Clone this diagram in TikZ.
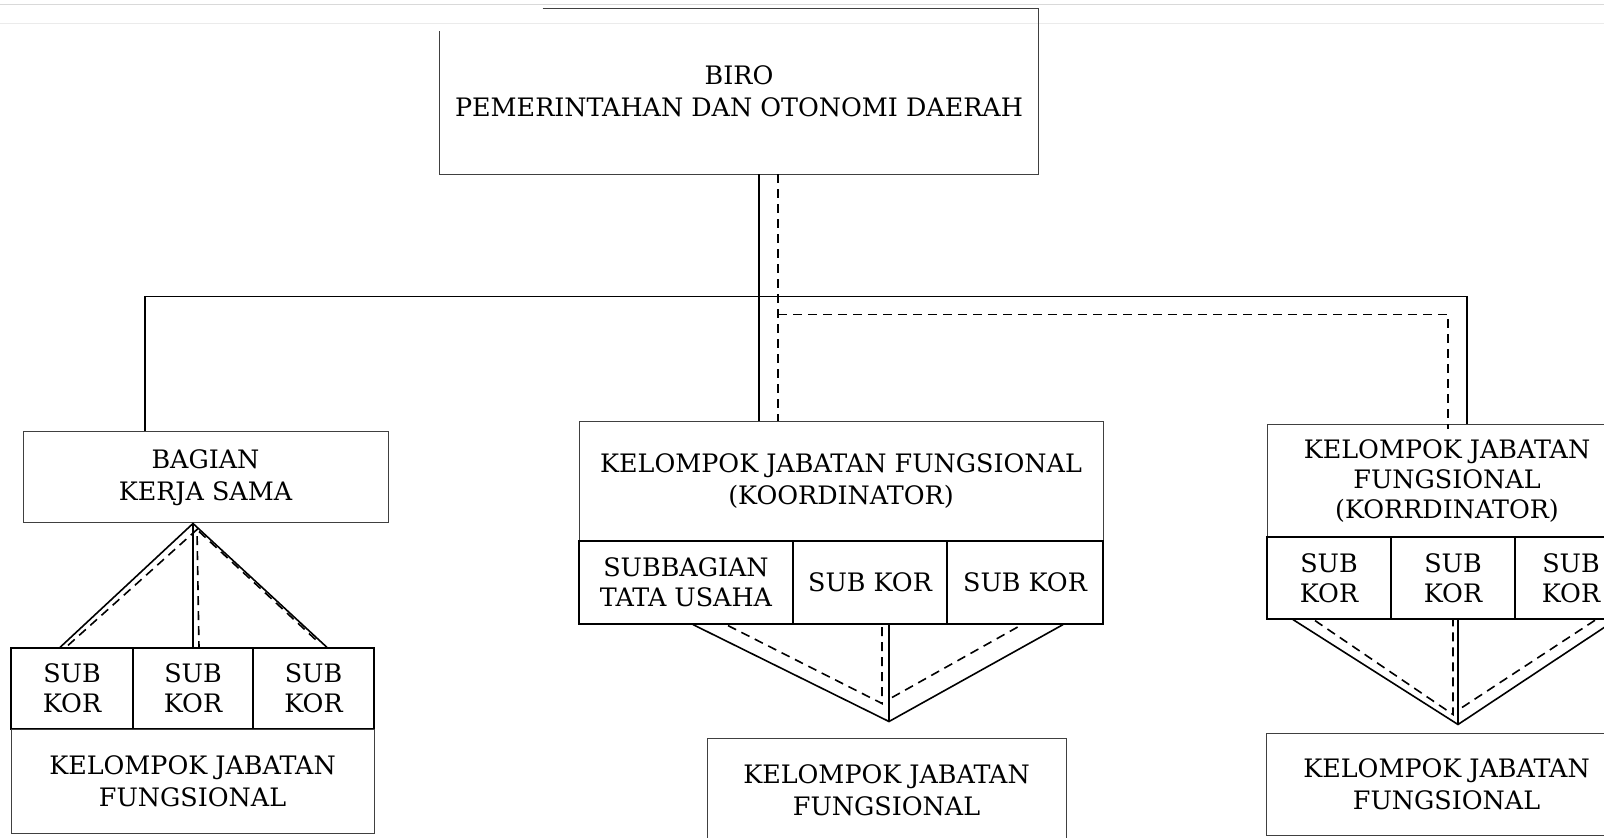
\documentclass[tikz,border=0pt]{standalone}
\usepackage{fontspec}
\setmainfont{DejaVu Serif}
\usetikzlibrary{calc}
\newcommand\orgfont{\fontsize{12.7}{16}\selectfont}
\newcommand\orgfonttight{\fontsize{12.7}{15}\selectfont}
\tikzset{
  unit/.style={draw=black!75, line width=0.5pt, inner sep=0pt, align=center, font=\orgfont},
  cell/.style={unit, draw=black, line width=0.6pt, font=\orgfonttight},
  conn/.style={draw=black, line width=0.8pt},
  dline/.style={draw=black, line width=0.8pt, dash pattern=on 4.5pt off 3pt},
  scanline/.style={line width=0.4pt},
}
\begin{document}
\begin{tikzpicture}[x=0.5pt,y=-0.5pt]
\useasboundingbox (0,0) rectangle (1604,838);
\fill[white] (0,0) rectangle (1604,838);
\clip (0,0) rectangle (1604,838);

% faint marks along the top edge of the sheet
\draw[scanline, black!15] (0,4) -- (1604,4);
\draw[scanline, black!8] (0,23) -- (1604,23);

% ---------- head office ----------
\node[unit, draw=none, minimum width=299pt, minimum height=82.5pt] (biro) at (739,91.5)
  {BIRO\\PEMERINTAHAN DAN OTONOMI DAERAH};
\draw[black!75, line width=0.5pt] ($(biro.north west)+(103,0)$) -- (biro.north east)
  -- (biro.south east) -- (biro.south west) -- ($(biro.north west)+(0,23)$);

% ---------- left branch ----------
\node[unit, minimum width=182.5pt, minimum height=45.5pt] (bagian) at (205.5,477.5) {BAGIAN\\KERJA SAMA};
\node[cell, minimum width=61pt, minimum height=40.5pt] (lsk1) at (72,688.5) {SUB\\KOR};
\node[cell, minimum width=60pt, minimum height=40.5pt] (lsk2) at (193,688.5) {SUB\\KOR};
\node[cell, minimum width=60.5pt, minimum height=40.5pt] (lsk3) at (313.5,688.5) {SUB\\KOR};
\node[unit, minimum width=181.5pt, minimum height=52pt] (lkjf) at (192.5,781) {KELOMPOK JABATAN\\FUNGSIONAL};

% ---------- middle branch ----------
\node[unit, minimum width=262pt, minimum height=59.5pt] (kjfk) at (841,481.5)
  {KELOMPOK JABATAN FUNGSIONAL\\(KOORDINATOR)};
\node[cell, minimum width=107pt, minimum height=41.5pt] (msub) at (686,582.5) {SUBBAGIAN\\TATA USAHA};
\node[cell, minimum width=77pt, minimum height=41.5pt] (msk2) at (870,582.5) {SUB KOR};
\node[cell, minimum width=78pt, minimum height=41.5pt] (msk3) at (1025,582.5) {SUB KOR};
\node[unit, minimum width=179.5pt, minimum height=52pt] (mkjf) at (886.5,790) {KELOMPOK JABATAN\\FUNGSIONAL};

% ---------- right branch ----------
\node[unit, font=\orgfonttight, minimum width=180pt, minimum height=56pt] (kjfr) at (1447,481)
  {KELOMPOK JABATAN\\FUNGSIONAL\\(KORRDINATOR)};
\node[cell, minimum width=62pt, minimum height=41pt] (rsk1) at (1329,578) {SUB\\KOR};
\node[cell, minimum width=62pt, minimum height=41pt] (rsk2) at (1453,578) {SUB\\KOR};
\node[cell, minimum width=56pt, minimum height=41pt] (rsk3) at (1571,578) {SUB\\KOR};
\node[unit, minimum width=180.5pt, minimum height=51pt] (rkjf) at (1446.5,784) {KELOMPOK JABATAN\\FUNGSIONAL};

% ---------- command lines from the head office ----------
\coordinate (sL) at ($(bagian.north)+(-60.5,0)$);
\coordinate (sR) at ($(kjfr.north)+(20,0)$);
\coordinate (sM) at ($(biro.south)+(20,0)$);
\coordinate (bus) at ($(biro.south)+(0,122)$);
\draw[conn] (sL) -- (sL |- bus) -- (sR |- bus) -- (sR);
\draw[conn] (sM) -- (sM |- kjfk.north);

% coordination lines (dashed)
\coordinate (dM) at ($(biro.south)+(39,0)$);
\coordinate (dR) at ($(kjfr.north)+(1,0)$);
\coordinate (dbus) at ($(biro.south)+(0,140)$);
\draw[dline] (dM) -- (dM |- kjfk.north);
\draw[dline] (dM |- dbus) -- (dR |- dbus) -- ($(dR)+(0,5)$);

% ---------- left fan ----------
\coordinate (apexL) at (lsk2.north |- bagian.south);
\draw[conn] ($(lsk1.north)+(-12,0)$) -- (apexL) -- ($(lsk3.north)+(13.5,0)$);
\draw[conn] (apexL) -- (lsk2.north);
\draw[dline] ($(lsk1.north)+(-4,-2)$) -- ($(apexL)+(4,6)$) -- ($(lsk2.north)+(6,0)$);
\draw[dline] ($(apexL)+(6,8)$) -- ($(lsk3.north)+(4,-6)$);

% ---------- middle fan ----------
\coordinate (apexM) at ($(mkjf.north)+(2.5,-16)$);
\draw[conn] ($(msub.south)+(7,0)$) -- (apexM) -- ($(msk3.south)+(38,0)$);
\draw[conn] (apexM) -- (apexM |- msk2.south);
\draw[dline] ($(msub.south)+(42,1)$) -- ($(apexM)+(-7,-18)$) -- ($(apexM |- msk2.south)+(-7,0)$);
\draw[dline] ($(apexM)+(3,-24)$) -- ($(msk3.south)+(-3,0)$);

% ---------- right fan ----------
\coordinate (apexR) at ($(rkjf.north)+(11.5,-8)$);
\draw[conn] ($(rsk1.south)+(-36,0)$) -- (apexR) -- ($(rsk3.south)+(45,0)$);
\draw[conn] (apexR) -- (apexR |- rsk2.south);
\draw[dline] ($(rsk1.south)+(-14,1)$) -- ($(apexR)+(-5,-10)$) -- ($(apexR |- rsk2.south)+(-5,0)$);
\draw[dline] ($(apexR)+(4,-17)$) -- ($(rsk3.south)+(25,0)$);
\end{tikzpicture}
\end{document}
